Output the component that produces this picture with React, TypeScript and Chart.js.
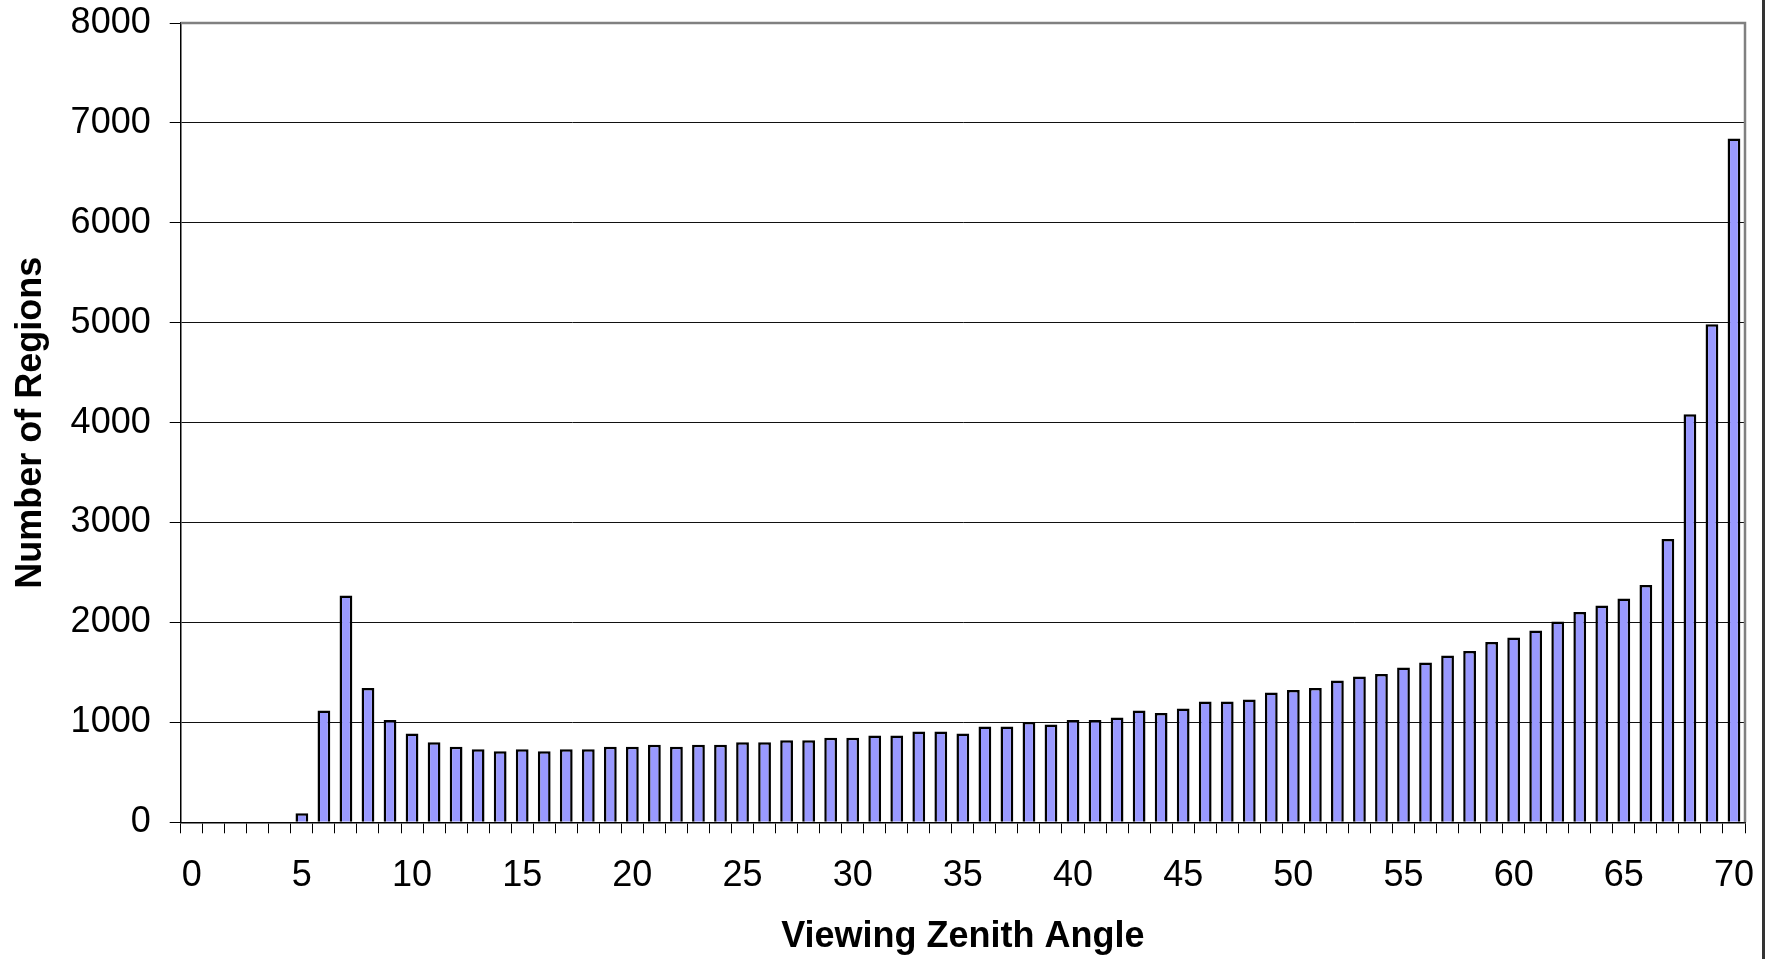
import React, { useEffect, useRef } from 'react';
import { Chart, registerables } from 'chart.js';

Chart.register(...registerables);

const angleLabels: string[] = [
  '0', '1', '2', '3', '4', '5', '6', '7', '8', '9',
  '10', '11', '12', '13', '14', '15', '16', '17', '18', '19',
  '20', '21', '22', '23', '24', '25', '26', '27', '28', '29',
  '30', '31', '32', '33', '34', '35', '36', '37', '38', '39',
  '40', '41', '42', '43', '44', '45', '46', '47', '48', '49',
  '50', '51', '52', '53', '54', '55', '56', '57', '58', '59',
  '60', '61', '62', '63', '64', '65', '66', '67', '68', '69',
  '70',
];

const regionCounts: number[] = [
  0, 0, 0, 0, 0, 90, 1120, 2270, 1345, 1025,
  890, 800, 755, 730, 710, 730, 710, 730, 730, 755,
  755, 775, 755, 775, 775, 800, 800, 820, 820, 845,
  845, 870, 870, 910, 910, 890, 960, 960, 1005, 980,
  1025, 1025, 1050, 1120, 1095, 1140, 1210, 1210, 1230, 1300,
  1325, 1345, 1420, 1460, 1485, 1550, 1600, 1670, 1715, 1805,
  1850, 1920, 2010, 2105, 2170, 2240, 2375, 2835, 4085, 4985,
  6845,
];

const yTicks: number[] = [0, 1000, 2000, 3000, 4000, 5000, 6000, 7000, 8000];
const xLabelEvery = 5;

const FONT = '"Liberation Sans", Arial, Helvetica, sans-serif';

const plotBorder = {
  id: 'plotBorder',
  afterDatasetsDraw(chart: any) {
    const { ctx, chartArea } = chart;
    const { left, right, top, bottom } = chartArea;
    ctx.save();
    ctx.strokeStyle = '#808080';
    ctx.lineWidth = 2.5;
    ctx.beginPath();
    ctx.moveTo(left, top);
    ctx.lineTo(right, top);
    ctx.lineTo(right, bottom);
    ctx.stroke();
    ctx.restore();
  },
};

export default function App() {
  const canvasRef = useRef<HTMLCanvasElement | null>(null);

  useEffect(() => {
    if (!canvasRef.current) return;
    const chart = new Chart(canvasRef.current, {
      type: 'bar',
      data: {
        labels: angleLabels,
        datasets: [
          {
            label: 'Number of Regions',
            data: regionCounts,
            backgroundColor: '#9999FF',
            borderColor: '#000000',
            borderWidth: 2.5,
            barPercentage: 0.58,
            categoryPercentage: 1.0,
          },
        ],
      },
      options: {
        animation: false,
        responsive: false,
        maintainAspectRatio: false,
        layout: { padding: { left: 0, right: 28, top: 23, bottom: 0 } },
        plugins: {
          legend: { display: false },
          tooltip: { enabled: false },
        },
        scales: {
          x: {
            type: 'category',
            offset: true,
            grid: {
              display: true,
              offset: true,
              drawOnChartArea: false,
              drawTicks: true,
              tickLength: 11,
              tickColor: '#000000',
              tickWidth: 1,
            },
            border: { display: true, color: '#000000', width: 1.5 },
            ticks: {
              autoSkip: false,
              maxRotation: 0,
              minRotation: 0,
              padding: 21,
              color: '#000000',
              font: { family: FONT, size: 36 },
              callback: (_v: any, i: number) => (i % xLabelEvery === 0 ? angleLabels[i] : ''),
            },
            title: {
              display: true,
              text: 'Viewing Zenith Angle',
              color: '#000000',
              font: { family: FONT, size: 36, weight: 'bold' },
              padding: { top: 0, bottom: 0 },
            },
            afterFit: (s: any) => {
              s.height = 136.7;
              s.paddingLeft = 0;
              s.paddingRight = 0;
            },
          },
          y: {
            min: yTicks[0],
            max: yTicks[yTicks.length - 1],
            afterBuildTicks: (s: any) => {
              s.ticks = yTicks.map((v) => ({ value: v }));
            },
            grid: {
              color: (ctx: any) =>
                ctx.tick && ctx.tick.value === yTicks[yTicks.length - 1] ? 'rgba(0,0,0,0)' : '#111111',
              lineWidth: 1,
              drawTicks: true,
              tickLength: 11,
              tickColor: '#000000',
              tickWidth: 1,
            },
            border: { display: true, color: '#000000', width: 1.5 },
            ticks: {
              padding: 19,
              color: '#000000',
              font: { family: FONT, size: 36 },
              callback: (v: any) => String(v),
            },
            title: {
              display: true,
              text: 'Number of Regions',
              color: '#000000',
              font: { family: FONT, size: 36, weight: 'bold' },
              padding: { top: 9.5, bottom: 0 },
            },
            afterFit: (s: any) => {
              s.width = 180.7;
              s.paddingTop = 0;
              s.paddingBottom = 0;
            },
          },
        },
      },
      plugins: [plotBorder],
    });
    return () => chart.destroy();
  }, []);

  return (
    <div style={{ position: 'fixed', left: 0, top: 0, width: 1773, height: 959, background: '#ffffff' }}>
      <canvas ref={canvasRef} width={1773} height={959} style={{ display: 'block' }} />
      <div style={{ position: 'absolute', left: 1762, top: 0, width: 2.5, height: 959, background: '#333333' }} />
    </div>
  );
}
